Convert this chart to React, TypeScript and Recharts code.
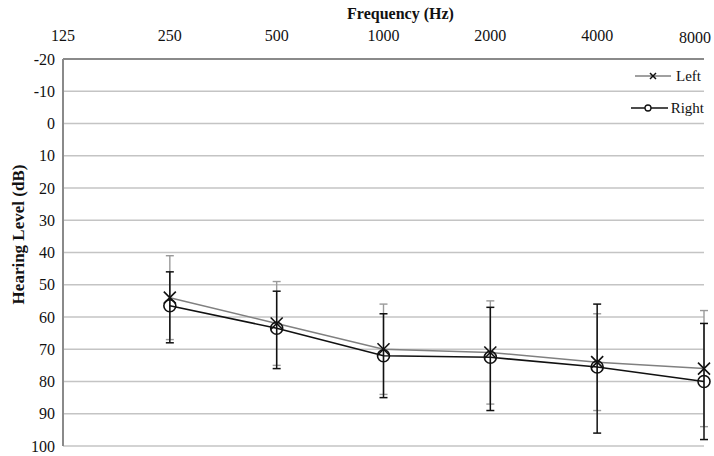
import { LineChart, Line, XAxis, YAxis, CartesianGrid, ErrorBar } from 'recharts';

const frequencies = ['125', '250', '500', '1000', '2000', '4000', '8000'];
const leftMean = [null, 54, 62, 70, 71, 74, 76];
const leftLow = [null, 41, 49, 56, 55, 59, 58];
const leftHigh = [null, 67, 75, 84, 87, 89, 94];
const rightMean = [null, 56.5, 63.5, 72, 72.5, 75.5, 80];
const rightLow = [null, 46, 52, 59, 57, 56, 62];
const rightHigh = [null, 68, 76, 85, 89, 96, 98];
const yTicks = [-20, -10, 0, 10, 20, 30, 40, 50, 60, 70, 80, 90, 100];

const data = frequencies.map((f, i) => {
  const lm = leftMean[i];
  const rm = rightMean[i];
  return {
    freq: f,
    left: lm,
    right: rm,
    leftErr: lm == null ? null : [lm - (leftLow[i] as number), (leftHigh[i] as number) - lm],
    rightErr: rm == null ? null : [rm - (rightLow[i] as number), (rightHigh[i] as number) - rm],
  };
});

const FONT = '"Liberation Serif", "Times New Roman", serif';

function CrossDot(props: any) {
  const { cx, cy, value, index } = props;
  if (value == null || cx == null || cy == null) return <g key={`lx-${index}`} />;
  const s = 6;
  return (
    <g key={`lx-${index}`}>
      <line x1={cx - s} y1={cy - s} x2={cx + s} y2={cy + s} stroke="#111" strokeWidth={1.6} />
      <line x1={cx - s} y1={cy + s} x2={cx + s} y2={cy - s} stroke="#111" strokeWidth={1.6} />
    </g>
  );
}

function CircleDot(props: any) {
  const { cx, cy, value, index } = props;
  if (value == null || cx == null || cy == null) return <g key={`rc-${index}`} />;
  return <circle key={`rc-${index}`} cx={cx} cy={cy} r={6} fill="none" stroke="#111" strokeWidth={1.6} />;
}

// top frequency labels; the last one is pulled inside the edge like the original
function FreqTick(props: any) {
  const { x, y, payload, index } = props;
  const last = index === frequencies.length - 1;
  return (
    <text
      x={last ? x + 7 : x}
      y={last ? y + 2 : y}
      textAnchor={last ? 'end' : 'middle'}
      fill="#111"
      fontSize={16}
      fontFamily={FONT}
    >
      {payload.value}
    </text>
  );
}

function LegendBox() {
  const row = { display: 'flex', alignItems: 'center', justifyContent: 'flex-end', height: 32 } as const;
  return (
    <div style={{ position: 'absolute', top: 60, right: 10, fontFamily: FONT, fontSize: 15, color: '#111' }}>
      <div style={row}>
        <svg width={38} height={12}>
          <line x1={0} y1={6} x2={36} y2={6} stroke="#808080" strokeWidth={1.5} />
          <line x1={15} y1={3} x2={21} y2={9} stroke="#111" strokeWidth={1.5} />
          <line x1={15} y1={9} x2={21} y2={3} stroke="#111" strokeWidth={1.5} />
        </svg>
        <span style={{ marginLeft: 3, marginRight: 3 }}>Left</span>
      </div>
      <div style={row}>
        <svg width={38} height={12}>
          <line x1={0} y1={6} x2={37} y2={6} stroke="#111" strokeWidth={1.5} />
          <circle cx={17} cy={6} r={3} fill="#fff" stroke="#111" strokeWidth={1.3} />
        </svg>
        <span style={{ marginLeft: 2 }}>Right</span>
      </div>
    </div>
  );
}

export default function App() {
  return (
    <div style={{ position: 'absolute', left: 0, top: 0, width: 714, height: 456, background: '#fff', fontFamily: FONT }}>
      <LineChart width={714} height={456} data={data} margin={{ top: 0, right: 10, bottom: 10, left: 0 }}>
        <CartesianGrid vertical={false} stroke="#c4c4c4" strokeWidth={1.5} />
        <XAxis
          dataKey="freq"
          orientation="top"
          height={59}
          axisLine={{ stroke: '#8a8a8a', strokeWidth: 2 }}
          tickLine={false}
          tickMargin={12}
          interval={0}
          tick={FreqTick}
          label={{ value: 'Frequency  (Hz)', position: 'insideTop', offset: 8, dx: 17, fill: '#111', fontSize: 16, fontWeight: 'bold', fontFamily: FONT }}
        />
        <YAxis
          reversed
          domain={[-20, 100]}
          ticks={yTicks}
          interval={0}
          width={63}
          axisLine={{ stroke: '#8a8a8a', strokeWidth: 2 }}
          tickLine={false}
          tick={{ fill: '#111', fontSize: 16, fontFamily: FONT }}
          label={{ value: 'Hearing Level (dB)', angle: -90, position: 'center', dx: -14, dy: -18, fill: '#111', fontSize: 17, fontWeight: 'bold', fontFamily: FONT }}
        />
        <Line
          dataKey="left"
          name="Left"
          stroke="#808080"
          strokeWidth={1.5}
          dot={CrossDot}
          activeDot={false}
          connectNulls
          isAnimationActive={false}
        >
          <ErrorBar dataKey="leftErr" width={4} stroke="#9a9a9a" strokeWidth={1.4} direction="y" />
        </Line>
        <Line
          dataKey="right"
          name="Right"
          stroke="#111"
          strokeWidth={1.6}
          dot={CircleDot}
          activeDot={false}
          connectNulls
          isAnimationActive={false}
        >
          <ErrorBar dataKey="rightErr" width={4} stroke="#111" strokeWidth={1.5} direction="y" />
        </Line>
      </LineChart>
      <LegendBox />
    </div>
  );
}
